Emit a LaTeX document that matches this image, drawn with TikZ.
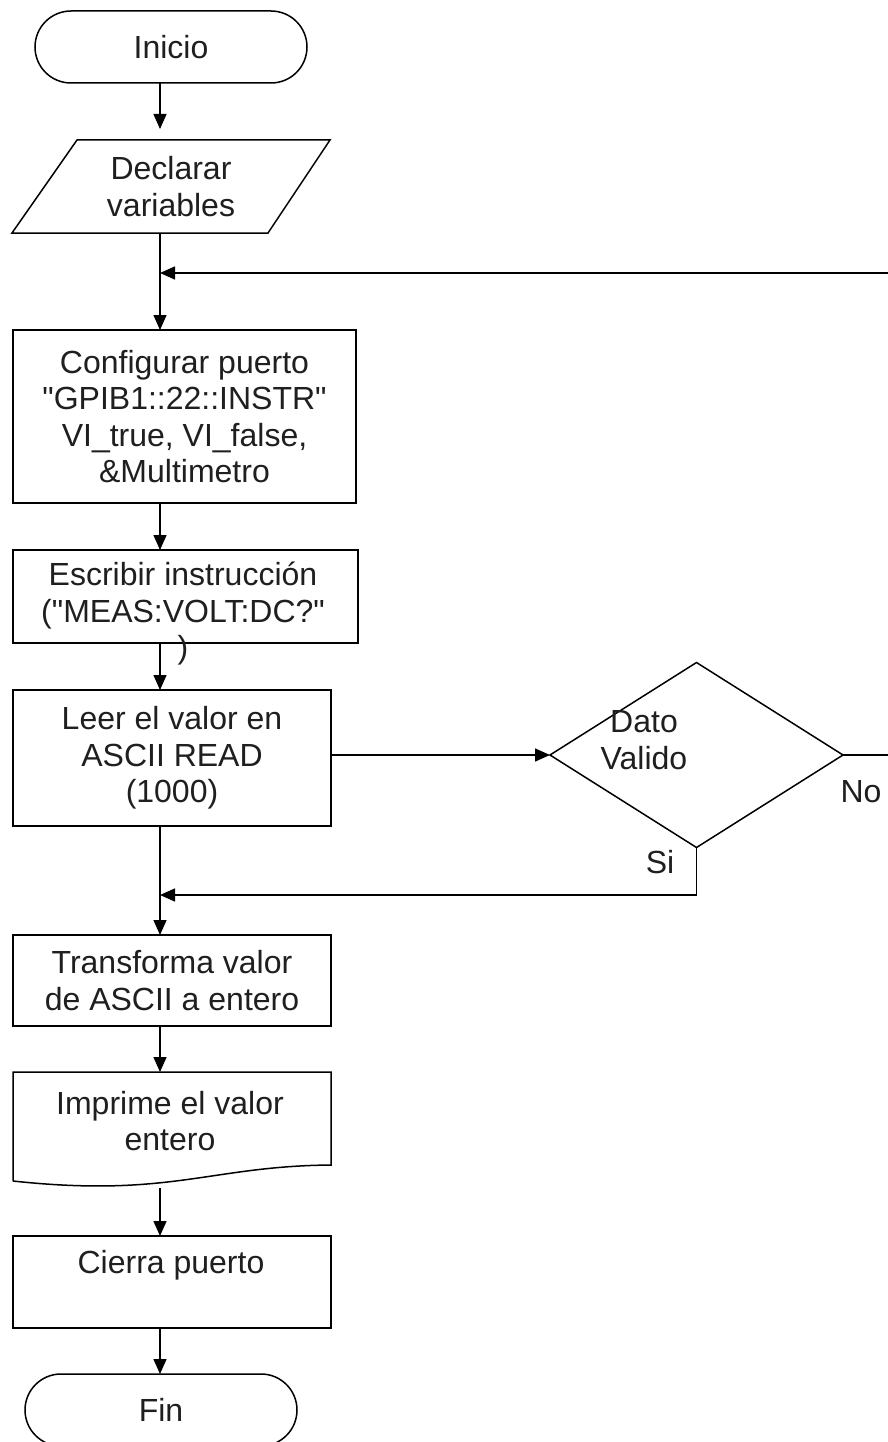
\documentclass[tikz,border=0pt]{standalone}
\usepackage{fontspec}
\setmainfont{Liberation Sans}
\usetikzlibrary{arrows.meta,shapes.misc,shapes.geometric}

\begin{document}
\begin{tikzpicture}[x=1pt,y=-1pt,
  font=\fontsize{32}{36.5}\selectfont,
  every node/.style={inner sep=0pt, outer sep=0pt, align=center, text=black!88},
  line/.style={line width=1.5pt, draw=black},
  flow/.style={line, -{Triangle[length=15pt,width=13pt]}},
  terminal/.style={rounded rectangle, line, minimum width=272pt, minimum height=72pt},
  process/.style={rectangle, line, minimum width=318pt},
  decision/.style={diamond, line, minimum width=293pt, minimum height=185pt}
]
\useasboundingbox (0,0) rectangle (888,1442);
\clip (0,0) rectangle (888,1442);
\fill[white] (0,0) rectangle (888,1442);

% column of the main flow
\coordinate (spine) at (160,0);

% start
\node[terminal] (inicio) at (171,47) {Inicio};

% input: parallelogram drawn from a plain box
\node[minimum width=318pt, minimum height=93pt] (decl) at (171,186.5) {Declarar\\variables};
\draw[line] ([xshift=65pt]decl.north west) -- (decl.north east)
  -- ([xshift=-62pt]decl.south east) -- (decl.south west) -- cycle;

% processes
\node[process, minimum width=343pt, minimum height=173pt] (conf) at (184.5,416.5)
  {Configurar puerto\\\textquotedbl GPIB1::22::INSTR\textquotedbl\\VI\_true, VI\_false,\\\&Multimetro};

\node[process, minimum width=345pt, minimum height=93pt] (escr) at (185.5,596.5) {};
\node (escrtxt) at (183,614) {Escribir instrucción\\(\textquotedbl MEAS:VOLT:DC?\textquotedbl\\)};

\node[process, minimum height=136pt] (leer) at (172,758) {Leer el valor en\\ASCII READ\\(1000)};

% decision
\node[decision] (valido) at (696.5,755) {};
\node (validotxt) at (644,740) {Dato\\Valido};
\node (no) at (861,792) {No};
\node (si) at (660,862) {Si};

\node[process, minimum height=91pt] (trans) at (172,980.5) {Transforma valor\\de ASCII a entero};

% document shape
\coordinate (docnw) at (13,1072);
\coordinate (docne) at (331,1072);
\coordinate (docse) at (331,1165);
\coordinate (docsw) at (13,1181);
\draw[line] (docsw) -- (docnw) -- (docne) -- (docse)
  .. controls (210,1166) and (170,1198) .. (docsw);
\node (impr) at (170,1121) {Imprime el valor\\entero};
\coordinate (imprbot) at (160,1188);

\node[process, minimum height=92pt] (cierra) at (172,1282) {};
\node (cierratxt) at (171,1265) {Cierra puerto};

\node[terminal] (fin) at (161,1410) {Fin};

% join points of the loops
\coordinate (loopjoin) at (160,273);
\coordinate (sijoin) at (160,895);
\coordinate (farright) at (950,0);

% connectors
\draw[flow, shorten >=11pt] (inicio.south -| spine) -- (decl.north -| spine);
\draw[flow] (decl.south -| spine) -- (conf.north -| spine);
\draw[flow] (conf.south -| spine) -- (escr.north -| spine);
\draw[flow] (escr.south -| spine) -- (leer.north -| spine);
\draw[flow] (leer.east |- valido.west) -- (valido.west);
\draw[flow] (leer.south -| spine) -- (trans.north -| spine);
\draw[flow] (trans.south -| spine) -- (docnw -| spine);
\draw[flow] (imprbot) -- (cierra.north -| spine);
\draw[flow] (cierra.south -| spine) -- (fin.north -| spine);

% "No": back to the port set-up
\draw[flow] (valido.east) -- (valido.east -| farright) |- (loopjoin);
% "Si": on to the conversion
\draw[flow] (valido.south) |- (sijoin);
\end{tikzpicture}
\end{document}
